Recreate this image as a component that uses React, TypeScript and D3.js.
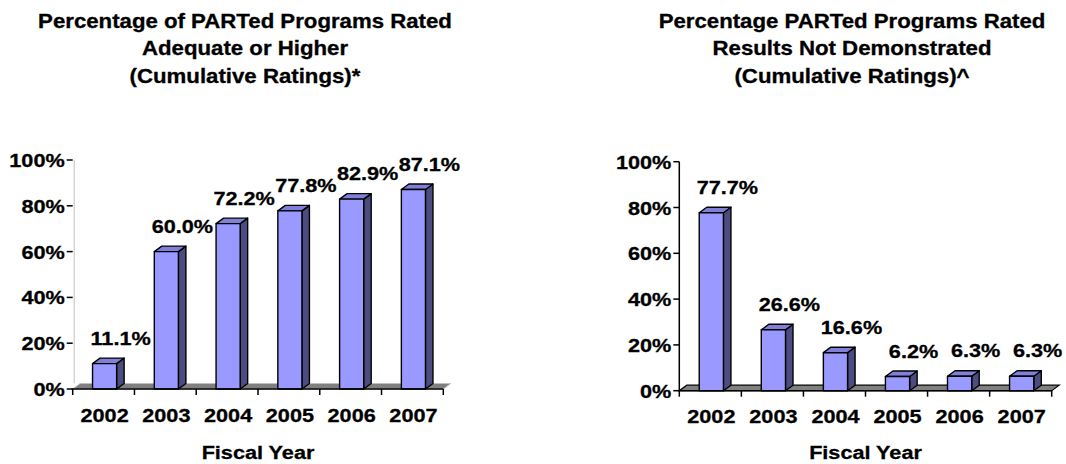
import React from "react";
import * as d3 from "d3";

const years = ["2002", "2003", "2004", "2005", "2006", "2007"];
const adequateValues = [11.1, 60.0, 72.2, 77.8, 82.9, 87.1];
const rndValues = [77.7, 26.6, 16.6, 6.2, 6.3, 6.3];
const yTickValues = [0, 20, 40, 60, 80, 100];
const leftTitle = ["Percentage of PARTed Programs Rated", "Adequate or Higher", "(Cumulative Ratings)*"];
const rightTitle = ["Percentage PARTed Programs Rated", "Results Not Demonstrated", "(Cumulative Ratings)^"];
const xAxisTitle = "Fiscal Year";

const FONT = "'Liberation Sans', Arial, Helvetica, sans-serif";
const STRETCH = 1.14;

function T({ x, y, anchor = "middle", size = 19, children }: any) {
  return (
    <g transform={`translate(${x},${y}) scale(${STRETCH},1)`}>
      <text
        x={0}
        y={0}
        textAnchor={anchor}
        fontSize={size}
        fontWeight="bold"
        fontFamily={FONT}
        fill="#000"
        stroke="#000"
        strokeWidth={0.3}
      >
        {children}
      </text>
    </g>
  );
}

function Chart({ values, title, titleCx, xRange, yRange, wall, axisTitleGap }: any) {
  const x = d3.scaleBand<string>().domain(years).range(xRange).padding(0);
  const y = d3.scaleLinear().domain([0, 100]).range(yRange);
  const y0 = y(0);
  const [x0, x1] = xRange;
  const dx = 7.5;
  const dy = -5.5;
  const bw = x.bandwidth() * 0.39;
  const plotCx = (x0 + x1) / 2;

  const floor = [
    [x0, y0],
    [x1, y0],
    [x1 + dx, y0 + dy],
    [x0 + dx, y0 + dy],
  ];
  const pts = (p: number[][]) => p.map((q) => q.join(",")).join(" ");

  return (
    <g>
      {title.map((t: string, i: number) => (
        <T key={i} x={titleCx} y={27.5 + i * 27.5} size={19.5}>
          {t}
        </T>
      ))}
      {wall ? (
        <line x1={x0 + 1.5} x2={x0 + 1.5} y1={y(100)} y2={y0 + dy} stroke="#c0c0c0" strokeWidth={1} />
      ) : null}
      <polygon
        points={pts(floor)}
        fill="#808080"
        stroke={wall ? "#c0c0c0" : "#000"}
        strokeWidth={wall ? 1 : 1.2}
      />
      {!wall ? <line x1={x0} x2={x0} y1={y(100)} y2={y0} stroke="#000" strokeWidth={1.5} /> : null}
      {yTickValues.map((v) => (
        <g key={v}>
          <line x1={x0 - 6} x2={x0} y1={y(v)} y2={y(v)} stroke="#000" strokeWidth={1.5} />
          <T x={x0 - 8} y={y(v) + 7} anchor="end">
            {v + "%"}
          </T>
        </g>
      ))}
      {values.map((v: number, i: number) => {
        const cat = years[i];
        const bx = (x(cat) as number) + (x.bandwidth() - bw) / 2 + 1;
        const top = y(v);
        const side = [
          [bx + bw, top],
          [bx + bw + dx, top + dy],
          [bx + bw + dx, y0 + dy],
          [bx + bw, y0],
        ];
        const topFace = [
          [bx, top],
          [bx + dx, top + dy],
          [bx + bw + dx, top + dy],
          [bx + bw, top],
        ];
        return (
          <g key={cat} stroke="#000" strokeWidth={1.4} strokeLinejoin="round">
            <polygon points={pts(side)} fill="#4c4c80" />
            <polygon points={pts(topFace)} fill="#8080d8" />
            <rect x={bx} y={top} width={bw} height={y0 - top} fill="#9999ff" />
          </g>
        );
      })}
      <line x1={x0 - 1} x2={x1} y1={y0} y2={y0} stroke="#000" strokeWidth={1.5} />
      {[...years.map((c) => x(c) as number), x1].map((t, i) => (
        <line key={i} x1={t} x2={t} y1={y0} y2={y0 + 6} stroke="#000" strokeWidth={1.5} />
      ))}
      {values.map((v: number, i: number) => {
        const cat = years[i];
        const cx = (x(cat) as number) + x.bandwidth() / 2 + 1;
        return (
          <T key={"l" + cat} x={cx + 16} y={y(v) - 19}>
            {v.toFixed(1) + "%"}
          </T>
        );
      })}
      {years.map((c) => (
        <T key={"x" + c} x={(x(c) as number) + x.bandwidth() / 2 + 1} y={y0 + 32.5}>
          {c}
        </T>
      ))}
      <T x={plotCx} y={y0 + axisTitleGap}>
        {xAxisTitle}
      </T>
    </g>
  );
}

export default function App() {
  return (
    <svg
      width={1066}
      height={464}
      viewBox="0 0 1066 464"
      style={{ position: "absolute", left: 0, top: 0, display: "block", background: "#fff" }}
    >
      <rect x={0} y={0} width={1066} height={464} fill="#fff" />
      <Chart
        values={adequateValues}
        title={leftTitle}
        titleCx={245}
        xRange={[72.7, 443.3]}
        yRange={[389, 160]}
        wall={true}
        axisTitleGap={70}
      />
      <Chart
        values={rndValues}
        title={rightTitle}
        titleCx={852}
        xRange={[679.3, 1051.7]}
        yRange={[390.7, 161.7]}
        wall={false}
        axisTitleGap={68.5}
      />
    </svg>
  );
}
